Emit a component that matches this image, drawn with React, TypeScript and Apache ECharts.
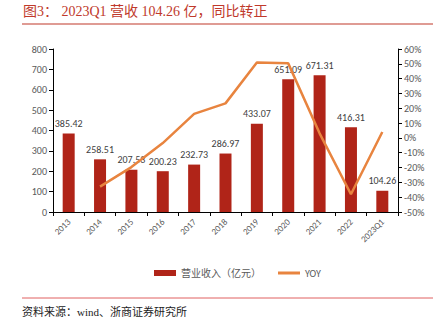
import React, { useEffect, useRef } from "react";
import * as echarts from "echarts";

const categories = ["2013", "2014", "2015", "2016", "2017", "2018", "2019", "2020", "2021", "2022", "2023Q1"];
const revenue = [385.42, 258.51, 207.53, 200.23, 232.73, 286.97, 433.07, 651.09, 671.31, 416.31, 104.26];
const yoy = [null, -32.9, -19.7, -3.5, 16.2, 23.3, 50.9, 50.3, 3.1, -38.0, 4.0];
const leftTicks = { min: 0, max: 800, interval: 100 };
const rightTicks = { min: -50, max: 60, interval: 10 };

const serif = "'Liberation Serif', 'DejaVu Serif', 'Noto Sans CJK SC', serif";
const sans = "Calibri, 'Liberation Sans', 'Noto Sans CJK SC', sans-serif";

export default function App() {
  const ref = useRef<HTMLDivElement>(null);
  useEffect(() => {
    if (!ref.current) return;
    document.body.style.margin = "0";
    const chart = echarts.init(ref.current, null, { renderer: "svg" });
    chart.setOption({
      animation: false,
      backgroundColor: "#ffffff",
      grid: { left: 53, right: 48, top: 49, bottom: 112, containLabel: false },
      graphic: [
        {
          type: "text",
          left: 23,
          top: 4,
          style: {
            text: "图3： 2023Q1 营收 104.26 亿，同比转正",
            fill: "#c0392b",
            font: `14px ${serif}`,
          },
        },
        {
          type: "line",
          shape: { x1: 22, y1: 24, x2: 433, y2: 24 },
          style: { stroke: "#c0392b", lineWidth: 1.2 },
        },
        {
          type: "line",
          shape: { x1: 22, y1: 298, x2: 433, y2: 298 },
          style: { stroke: "#e06060", lineWidth: 1 },
        },
        {
          type: "text",
          left: 22,
          top: 306,
          style: {
            text: "资料来源：wind、浙商证券研究所",
            fill: "#222222",
            font: `11px ${serif}`,
          },
        },
      ],
      legend: {
        top: 263,
        left: 149,
        itemGap: 17,
        itemWidth: 22,
        itemHeight: 6,
        textStyle: { color: "#595959", fontSize: 10, fontFamily: sans },
        data: [
          { name: "营业收入（亿元）", icon: "rect" },
          { name: "YOY", icon: "path://M0,0 L22,0 L22,3 L0,3 Z" },
        ],
      },
      xAxis: {
        type: "category",
        data: categories,
        axisLine: { lineStyle: { color: "#000000", width: 1 } },
        axisTick: { show: true, lineStyle: { color: "#000000" }, length: 4 },
        axisLabel: { rotate: 45, color: "#595959", fontSize: 9, fontFamily: sans, margin: 8 },
      },
      yAxis: [
        {
          type: "value",
          min: leftTicks.min,
          max: leftTicks.max,
          interval: leftTicks.interval,
          splitLine: { show: false },
          axisLine: { show: true, lineStyle: { color: "#000000" } },
          axisTick: { show: true, lineStyle: { color: "#000000" }, length: 4 },
          axisLabel: { color: "#595959", fontSize: 10, fontFamily: sans, margin: 6 },
        },
        {
          type: "value",
          min: rightTicks.min,
          max: rightTicks.max,
          interval: rightTicks.interval,
          position: "right",
          splitLine: { show: false },
          axisLine: { show: true, lineStyle: { color: "#000000" } },
          axisTick: { show: true, lineStyle: { color: "#000000" }, length: 4 },
          axisLabel: { color: "#595959", fontSize: 10, fontFamily: sans, margin: 6, formatter: "{value}%" },
        },
      ],
      series: [
        {
          name: "营业收入（亿元）",
          type: "bar",
          data: revenue,
          barWidth: 12,
          itemStyle: { color: "#b02418" },
          label: {
            show: true,
            position: "top",
            color: "#404040",
            fontSize: 10,
            fontFamily: sans,
            formatter: (p: any) => p.value.toFixed(2),
          },
        },
        {
          name: "YOY",
          type: "line",
          yAxisIndex: 1,
          data: yoy,
          symbol: "none",
          lineStyle: { color: "#e8843f", width: 2.5 },
          itemStyle: { color: "#e8843f" },
          z: 3,
        },
      ],
    });
    return () => chart.dispose();
  }, []);
  return <div ref={ref} style={{ width: 446, height: 324 }} />;
}
